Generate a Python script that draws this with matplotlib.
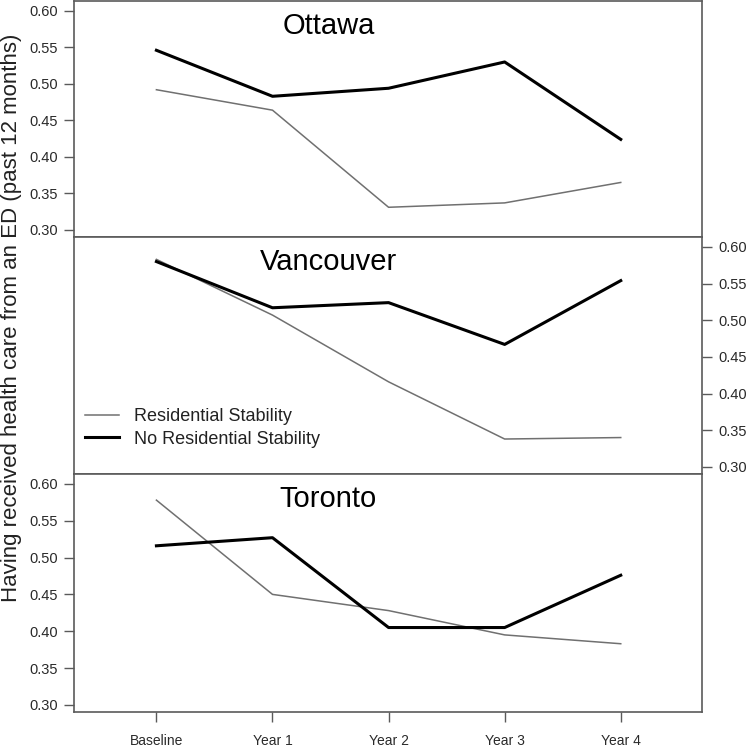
import matplotlib
matplotlib.use("Agg")
import matplotlib.pyplot as plt

plt.rcParams["font.family"] = ["Liberation Sans", "DejaVu Sans"]

# x categories
waves = ["Baseline", "Year 1", "Year 2", "Year 3", "Year 4"]

# proportion with an ED visit in past 12 months
ottawa_stable = [0.492, 0.464, 0.331, 0.337, 0.365]
ottawa_unstable = [0.546, 0.483, 0.494, 0.530, 0.424]
vancouver_stable = [0.583, 0.507, 0.416, 0.338, 0.340]
vancouver_unstable = [0.580, 0.517, 0.524, 0.467, 0.554]
toronto_stable = [0.578, 0.450, 0.428, 0.395, 0.383]
toronto_unstable = [0.516, 0.527, 0.405, 0.405, 0.476]

cities = ["Ottawa", "Vancouver", "Toronto"]
stable_series = [ottawa_stable, vancouver_stable, toronto_stable]
unstable_series = [ottawa_unstable, vancouver_unstable, toronto_unstable]
y_ticks = [0.30, 0.35, 0.40, 0.45, 0.50, 0.55, 0.60]

spine_color = "#5a5a5a"
label_color = "#2a2a2a"
gray_line = "#707070"

fig = plt.figure(figsize=(7.47, 7.46), dpi=100)

# panel boxes in figure fraction (left, bottom, width, height)
left = 74 / 747
width = 628 / 747
panel_px = [(1, 237), (237, 474), (474, 712)]

x = list(range(len(waves)))
axes = []
for i, (top_px, bot_px) in enumerate(panel_px):
    bottom = 1 - bot_px / 746
    height = (bot_px - top_px) / 746
    ax = fig.add_axes((left, bottom, width, height))
    axes.append(ax)

    ax.plot(x, stable_series[i], color=gray_line, linewidth=1.1,
            label="Residential Stability")
    ax.plot(x, unstable_series[i], color="black", linewidth=2.2,
            label="No Residential Stability")

    ax.set_xlim(-0.71, 4.70)
    ax.set_ylim(0.2903, 0.6135)
    ax.set_yticks(y_ticks)
    ax.set_yticklabels([f"{t:.2f}" for t in y_ticks])

    for sp in ax.spines.values():
        sp.set_color(spine_color)
        sp.set_linewidth(1.2)

    ax.tick_params(axis="y", direction="out", length=7.5, width=1.0,
                   color=spine_color, labelsize=10.5, labelcolor=label_color,
                   pad=4)

    # middle panel has its axis on the right
    if i == 1:
        ax.yaxis.tick_right()
    else:
        ax.yaxis.tick_left()

    if i == 2:
        ax.set_xticks(x)
        ax.set_xticklabels(waves)
        ax.tick_params(axis="x", direction="out", length=7.5, width=1.0,
                       color=spine_color, labelsize=10, labelcolor=label_color,
                       pad=8)
    else:
        ax.set_xticks([])

    ax.text(0.405, 0.893, cities[i], transform=ax.transAxes,
            ha="center", va="center", fontsize=21, color="black")

axes[1].legend(loc="center left", bbox_to_anchor=(0.0175, 0.194),
               frameon=False, fontsize=13, handlelength=1.9,
               handletextpad=0.8, labelspacing=0.3, borderpad=0,
               borderaxespad=0, labelcolor="#222222")

fig.text(0.016, 0.574, "Having received health care from an ED (past 12 months)",
         rotation=90, ha="center", va="center", fontsize=16, color="#222222")

fig.savefig("out.png", dpi=100)
